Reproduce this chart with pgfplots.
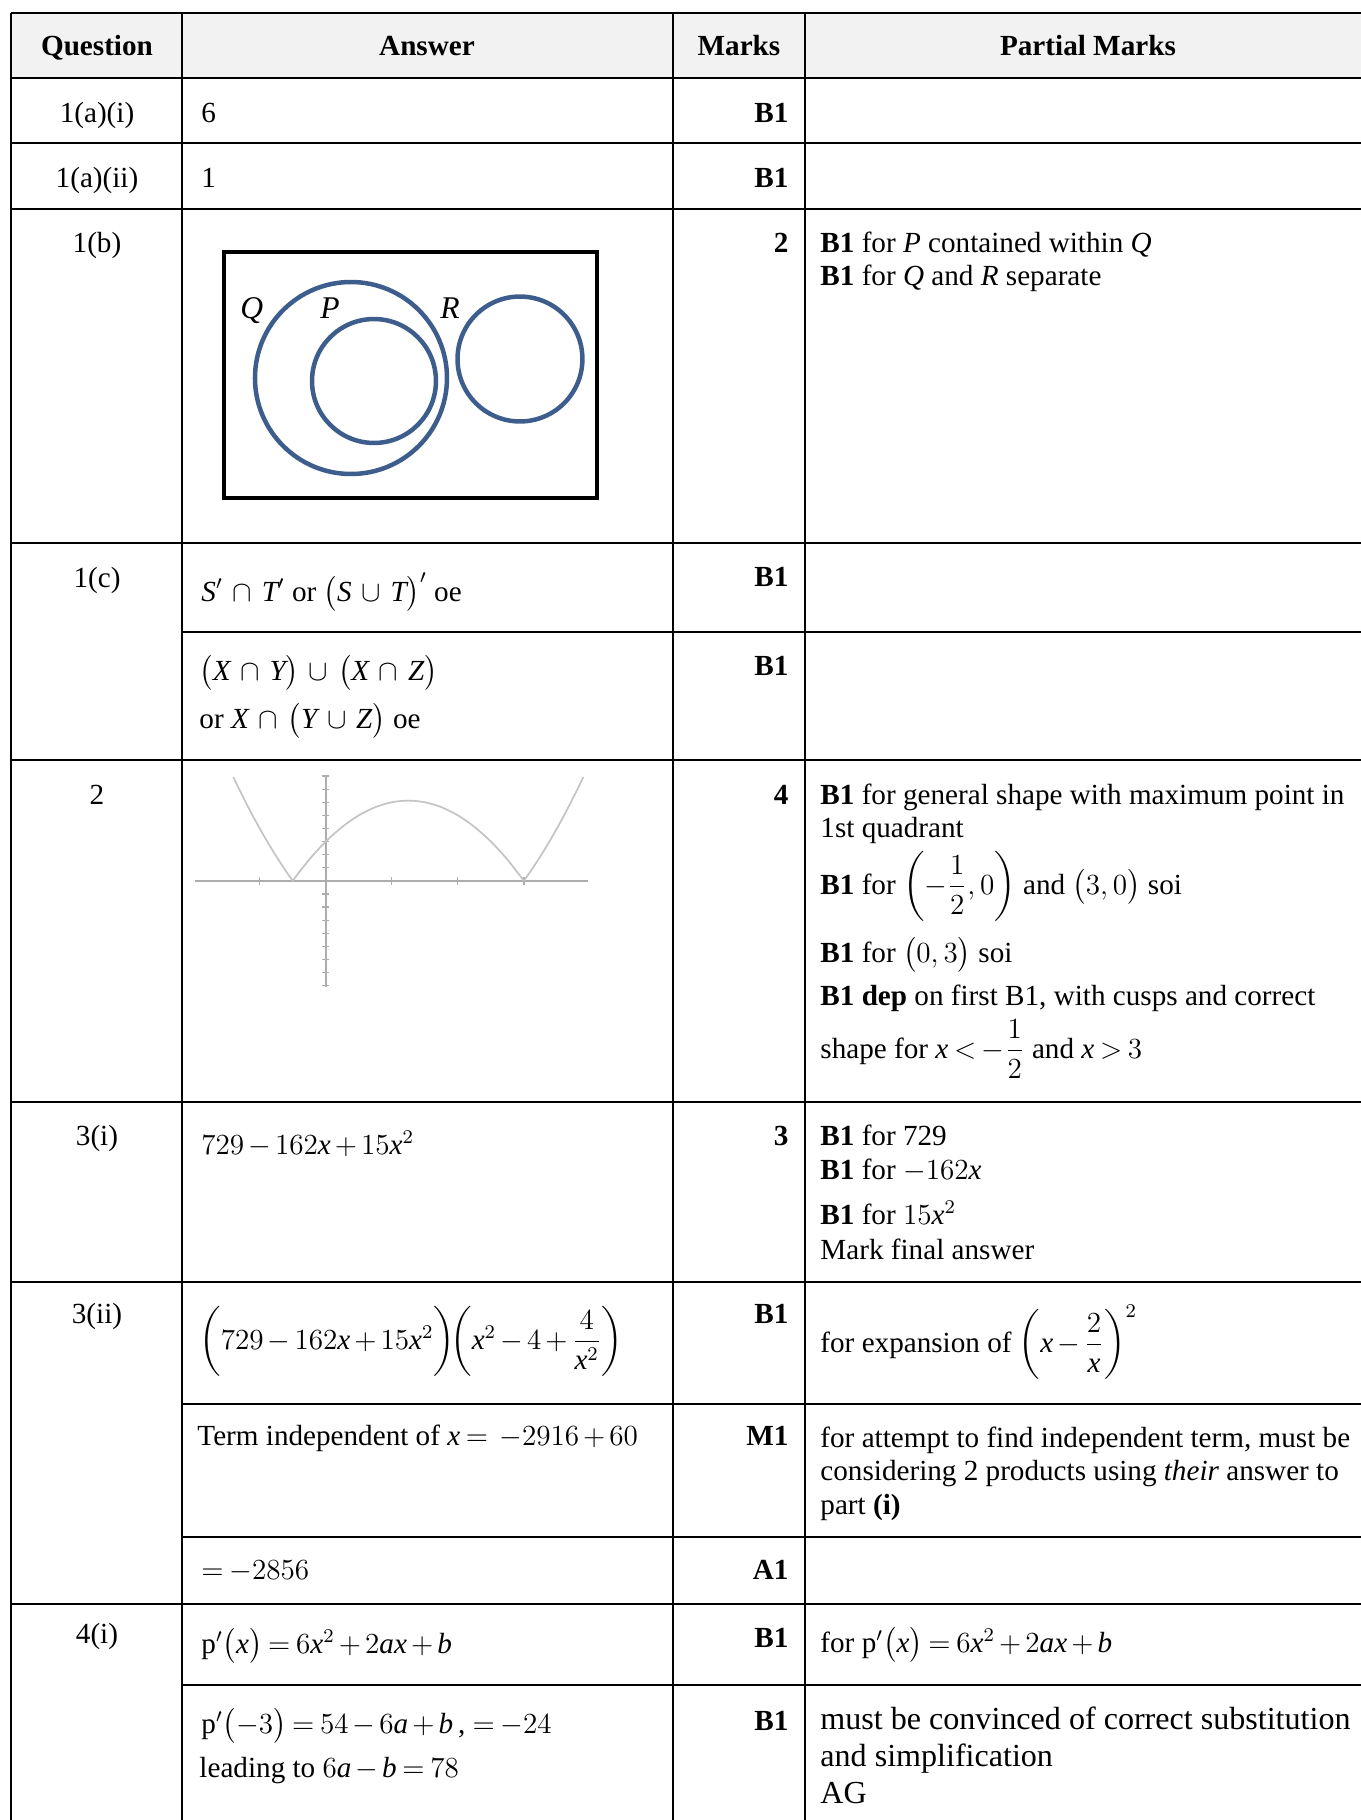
\documentclass[12pt,border=0pt]{standalone}
\usepackage{amsmath}
\usepackage{fontspec}
\setmainfont{Liberation Serif}
\DeclareSymbolFont{operators}{TU}{\rmdefault}{m}{n}
\usepackage{pgfplots}
\pgfplotsset{compat=1.18}
\definecolor{hdr}{HTML}{F2F2F2}
\definecolor{venn}{HTML}{3D5E8C}
\definecolor{curve}{HTML}{C4C4C4}
\definecolor{axgray}{HTML}{ADADAD}
\newcommand{\mi}[1]{\text{\itshape #1}}
\medmuskip=2.5mu plus 1mu minus 1mu
\thickmuskip=3.5mu plus 2mu
\tikzset{
  t/.style={inner sep=0pt, font=\fontsize{12}{13.8}\selectfont},
  L/.style={t, anchor=base west},
  R/.style={t, anchor=base east},
  C/.style={t, anchor=base},
  Lb/.style={L, font=\fontsize{13.2}{15.2}\selectfont},
  rule/.style={line width=0.95pt, black},
}
\begin{document}
\begin{tikzpicture}
\begin{axis}[name=main, width=560pt, height=748.9pt, scale only axis, hide axis,
  xmin=0, xmax=1361, ymin=0, ymax=1820, y dir=reverse, clip=false]
\fill[white] (axis cs:0,0) rectangle (axis cs:1361,1820);
\coordinate (tl) at (axis cs:0,0);
\coordinate (br) at (axis cs:1361,1820);
\coordinate (gsw) at (axis cs:195,987);
\fill[hdr] (axis cs:11,13) rectangle (axis cs:1361,78);
% full-width rules
\draw[rule] (axis cs:11,13) -- (axis cs:1361,13);
\draw[rule] (axis cs:11,78) -- (axis cs:1361,78);
\draw[rule] (axis cs:11,143) -- (axis cs:1361,143);
\draw[rule] (axis cs:11,209) -- (axis cs:1361,209);
\draw[rule] (axis cs:11,543) -- (axis cs:1361,543);
\draw[rule] (axis cs:11,760) -- (axis cs:1361,760);
\draw[rule] (axis cs:11,1102) -- (axis cs:1361,1102);
\draw[rule] (axis cs:11,1282) -- (axis cs:1361,1282);
\draw[rule] (axis cs:11,1604) -- (axis cs:1361,1604);
% sub-row rules
\draw[rule] (axis cs:182,632) -- (axis cs:1361,632);
\draw[rule] (axis cs:182,1404) -- (axis cs:1361,1404);
\draw[rule] (axis cs:182,1537) -- (axis cs:1361,1537);
\draw[rule] (axis cs:182,1685) -- (axis cs:1361,1685);
% column rules
\draw[rule] (axis cs:11,13) -- (axis cs:11,1820);
\draw[rule] (axis cs:182,13) -- (axis cs:182,1820);
\draw[rule] (axis cs:673,13) -- (axis cs:673,1820);
\draw[rule] (axis cs:805,13) -- (axis cs:805,1820);
% header
\node[C] at (axis cs:97,55) {\textbf{Question}};
\node[C] at (axis cs:427,55) {\textbf{Answer}};
\node[C] at (axis cs:739,55) {\textbf{Marks}};
\node[C] at (axis cs:1088,55) {\textbf{Partial Marks}};
% question labels
\node[C] at (axis cs:97,122) {1(a)(i)};
\node[C] at (axis cs:97,187) {1(a)(ii)};
\node[C] at (axis cs:97,252) {1(b)};
\node[C] at (axis cs:97,587) {1(c)};
\node[C] at (axis cs:97,804) {2};
\node[C] at (axis cs:97,1145) {3(i)};
\node[C] at (axis cs:97,1323) {3(ii)};
\node[C] at (axis cs:97,1643) {4(i)};
% answers
\node[L] at (axis cs:201,122) {6};
\node[L] at (axis cs:201,187) {1};
\node[L] at (axis cs:201,601) {$\medmuskip=6mu \mi{S}'\cap\mi{T}'$ or $\medmuskip=6mu \bigl(\mi{S}\cup\mi{T}\bigr)'$ oe};
\node[L] at (axis cs:199,680) {$\medmuskip=6mu \bigl(\mi{X}\cap\mi{Y}\bigr)\cup\bigl(\mi{X}\cap\mi{Z}\bigr)$};
\node[L] at (axis cs:199,728) {or $\medmuskip=6mu \mi{X}\cap\bigl(\mi{Y}\cup\mi{Z}\bigr)$ oe};
\node[L] at (axis cs:201,1154) {$729-162\mi{x}+15\mi{x}^2$};
\node[L] at (axis cs:199,1349) {$\biggl(729-162\mi{x}+15\mi{x}^2\biggr)\!\biggl(\mi{x}^2-4+\dfrac{4}{\mi{x}^2}\biggr)$};
\node[L] at (axis cs:197,1445) {Term independent of $\mi{x} = \;-2916+60$};
\node[L] at (axis cs:201,1579) {$=-2856$};
\node[L] at (axis cs:201,1653) {$\mathrm{p}'\bigl(\mi{x}\bigr)=6\mi{x}^2+2\mi{ax}+\mi{b}$};
\node[L] at (axis cs:201,1733) {$\mathrm{p}'\bigl(-3\bigr)=54-6\mi{a}+\mi{b}$\,, $=-24$};
\node[L] at (axis cs:199,1777) {leading to $6\mi{a}-\mi{b}=78$};
% Venn diagram
\draw[line width=2pt] (axis cs:224,252) rectangle (axis cs:597,498);
\draw[venn, line width=1.85pt] (axis cs:351,378) circle[radius=39.5pt];
\draw[venn, line width=1.85pt] (axis cs:374,381) circle[radius=25.5pt];
\draw[venn, line width=1.85pt] (axis cs:520,359) circle[radius=25.7pt];
\node[t, anchor=base west, font=\fontsize{13}{15}\selectfont] at (axis cs:240,318) {\textit{Q}};
\node[t, anchor=base west, font=\fontsize{13}{15}\selectfont] at (axis cs:320,318) {\textit{P}};
\node[t, anchor=base west, font=\fontsize{13}{15}\selectfont] at (axis cs:440,318) {\textit{R}};
% marks
\node[R] at (axis cs:789,122) {\textbf{B1}};
\node[R] at (axis cs:789,187) {\textbf{B1}};
\node[R] at (axis cs:789,252) {\textbf{2}};
\node[R] at (axis cs:789,586) {\textbf{B1}};
\node[R] at (axis cs:789,675) {\textbf{B1}};
\node[R] at (axis cs:789,804) {\textbf{4}};
\node[R] at (axis cs:789,1145) {\textbf{3}};
\node[R] at (axis cs:789,1323) {\textbf{B1}};
\node[R] at (axis cs:789,1445) {\textbf{M1}};
\node[R] at (axis cs:789,1579) {\textbf{A1}};
\node[R] at (axis cs:789,1647) {\textbf{B1}};
\node[R] at (axis cs:789,1730) {\textbf{B1}};
% partial marks
\node[L] at (axis cs:820,252) {\textbf{B1} for \textit{P} contained within \textit{Q}};
\node[L] at (axis cs:820,285) {\textbf{B1} for \textit{Q} and \textit{R} separate};
\node[L] at (axis cs:820,804) {\textbf{B1} for general shape with maximum point in};
\node[L] at (axis cs:820,837) {1st quadrant};
\node[L] at (axis cs:820,894) {\textbf{B1} for \smash{$\left(-\dfrac{1}{2},0\right)$} and $\bigl(3,0\bigr)$ soi};
\node[L] at (axis cs:820,962) {\textbf{B1} for $\bigl(0,3\bigr)$ soi};
\node[L] at (axis cs:820,1005) {\textbf{B1 dep} on first B1, with cusps and correct};
\node[L] at (axis cs:820,1058) {shape for \smash{$\mi{x}<-\dfrac{1}{2}$} and $\mi{x}>3$};
\node[L] at (axis cs:820,1145) {\textbf{B1} for 729};
\node[L] at (axis cs:820,1179) {\textbf{B1} for $-162\mi{x}$};
\node[L] at (axis cs:820,1224) {\textbf{B1} for $15\mi{x}^2$};
\node[L] at (axis cs:820,1259) {Mark final answer};
\node[L] at (axis cs:820,1352) {for expansion of $\left(\mi{x}-\dfrac{2}{\mi{x}}\right)^{2}$};
\node[L] at (axis cs:820,1447) {for attempt to find independent term, must be};
\node[L] at (axis cs:820,1480) {considering 2 products using \textit{their} answer to};
\node[L] at (axis cs:820,1514) {part \textbf{(i)}};
\node[L] at (axis cs:820,1652) {for $\mathrm{p}'\bigl(\mi{x}\bigr)=6\mi{x}^2+2\mi{ax}+\mi{b}$};
\node[Lb] at (axis cs:820,1729) {must be convinced of correct substitution};
\node[Lb] at (axis cs:820,1766) {and simplification};
\node[Lb] at (axis cs:820,1803) {AG};
\end{axis}
% sketch of y = |(2x+1)(3-x)| in row 2
\begin{axis}[at={(gsw)}, anchor=south west, scale only axis,
  width=161.7pt, height=86.8pt,
  xmin=-1.98, xmax=3.97, ymin=-8.1, ymax=8,
  axis lines=middle, axis line style={axgray, line width=0.7pt, -},
  xtick={-1,1,2,3}, ytick={-8,-7,...,8},
  xticklabels={}, yticklabels={},
  major tick length=3pt, tick style={axgray, line width=0.5pt},
  clip=false]
\addplot[curve, line width=0.7pt, smooth] coordinates {
  (-1.4,7.92) (-1.2,5.88) (-1.0,4) (-0.8,2.28) (-0.6,0.72) (-0.5,0)
};
\addplot[curve, line width=0.7pt, smooth] coordinates {
  (-0.5,0) (-0.4,0.68) (-0.2,1.92) (0,3) (0.25,4.125) (0.5,5) (0.75,5.625)
  (1.0,6) (1.25,6.125) (1.5,6) (1.75,5.625) (2.0,5) (2.25,4.125)
  (2.5,3) (2.75,1.625) (3.0,0)
};
\addplot[curve, line width=0.7pt, smooth] coordinates {
  (3.0,0) (3.2,1.48) (3.4,3.12) (3.6,4.92) (3.8,6.88) (3.9,7.92)
};
\end{axis}
\pgfresetboundingbox
\path[use as bounding box] (tl) rectangle (br);
\end{tikzpicture}
\end{document}
